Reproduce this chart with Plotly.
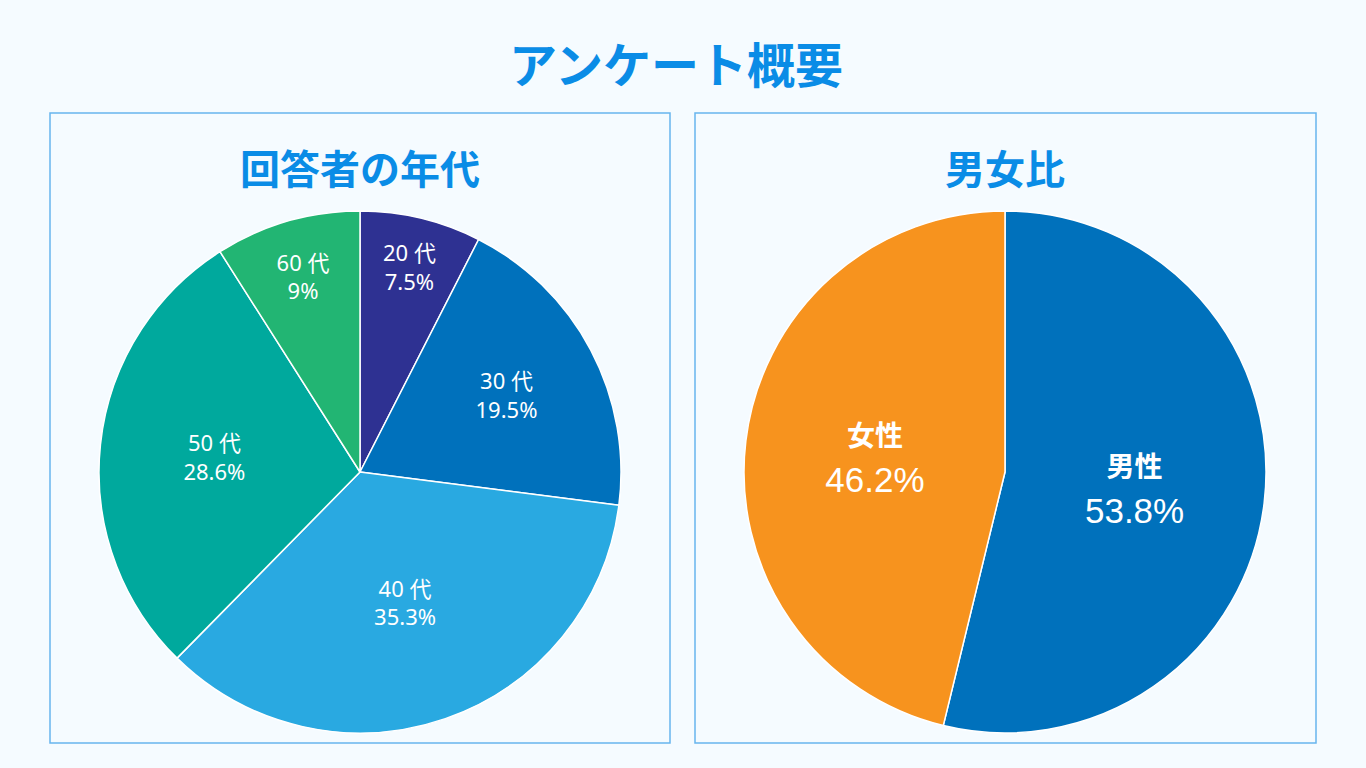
import plotly.graph_objects as go

# ---- data ----
age_labels = ["20 代", "30 代", "40 代", "50 代", "60 代"]
age_values = [7.5, 19.5, 35.3, 28.6, 9]
age_colors = ["#2E3192", "#0071BC", "#29A9E1", "#00A99D", "#22B573"]

sex_labels = ["男性", "女性"]
sex_values = [53.8, 46.2]
sex_colors = ["#0071BC", "#F7931E"]

main_title = "アンケート概要"
sub_titles = ["回答者の年代", "男女比"]

W, H = 1366, 768
BG = "#F5FBFF"
TITLE_COLOR = "#0A8CE6"
BORDER = "#67B5EE"
FONT = "Noto Sans CJK JP"

fig = go.Figure()

fig.add_trace(go.Pie(
    labels=age_labels, values=age_values, sort=False, direction="clockwise",
    rotation=0,
    marker=dict(colors=age_colors, line=dict(color="white", width=1.5)),
    texttemplate="%{label}<br>%{value}%", textposition="inside",
    insidetextorientation="horizontal",
    textfont=dict(family="Noto Sans, Noto Sans CJK JP", size=22, color="white"),
    domain=dict(x=[(360 - 261) / W, (360 + 261) / W], y=[(296 - 261) / H, (296 + 261) / H]),
    showlegend=False, hoverinfo="label+value",
))

fig.add_trace(go.Pie(
    labels=sex_labels, values=sex_values, sort=False, direction="clockwise",
    rotation=0,
    marker=dict(colors=sex_colors, line=dict(color="white", width=1.5)),
    texttemplate="<span style='font-size:28px;font-family:Noto Sans CJK JP'><b>%{label}</b></span><br>%{value}%",
    textposition="inside", insidetextorientation="horizontal",
    textfont=dict(family="Liberation Sans, Noto Sans CJK JP", size=35, color="white"),
    domain=dict(x=[(1005 - 261) / W, (1005 + 261) / W], y=[(296 - 261) / H, (296 + 261) / H]),
    showlegend=False, hoverinfo="label+value",
))

shapes = []
for x0, x1 in [(50, 670), (695, 1316)]:
    shapes.append(dict(type="rect", xref="paper", yref="paper",
                       x0=x0 / W, x1=x1 / W, y0=(H - 743) / H, y1=(H - 113) / H,
                       line=dict(color=BORDER, width=1.5), fillcolor="rgba(0,0,0,0)", layer="below"))

annotations = [
    dict(text="<b>" + main_title + "</b>", x=676 / W, y=(H - 62) / H, xref="paper", yref="paper",
         showarrow=False, font=dict(family=FONT, size=48, color=TITLE_COLOR), xanchor="center", yanchor="middle"),
    dict(text="<b>" + sub_titles[0] + "</b>", x=360 / W, y=(H - 167) / H, xref="paper", yref="paper",
         showarrow=False, font=dict(family=FONT, size=40, color=TITLE_COLOR), xanchor="center", yanchor="middle"),
    dict(text="<b>" + sub_titles[1] + "</b>", x=1005 / W, y=(H - 167) / H, xref="paper", yref="paper",
         showarrow=False, font=dict(family=FONT, size=40, color=TITLE_COLOR), xanchor="center", yanchor="middle"),
]

fig.update_layout(
    width=W, height=H, margin=dict(l=0, r=0, t=0, b=0),
    paper_bgcolor=BG, plot_bgcolor=BG,
    shapes=shapes, annotations=annotations,
    font=dict(family=FONT),
)

fig.write_html(
    "out.html",
    config={"displayModeBar": False},
    post_script="document.body.style.margin='0';document.body.style.background='#F5FBFF';",
)
